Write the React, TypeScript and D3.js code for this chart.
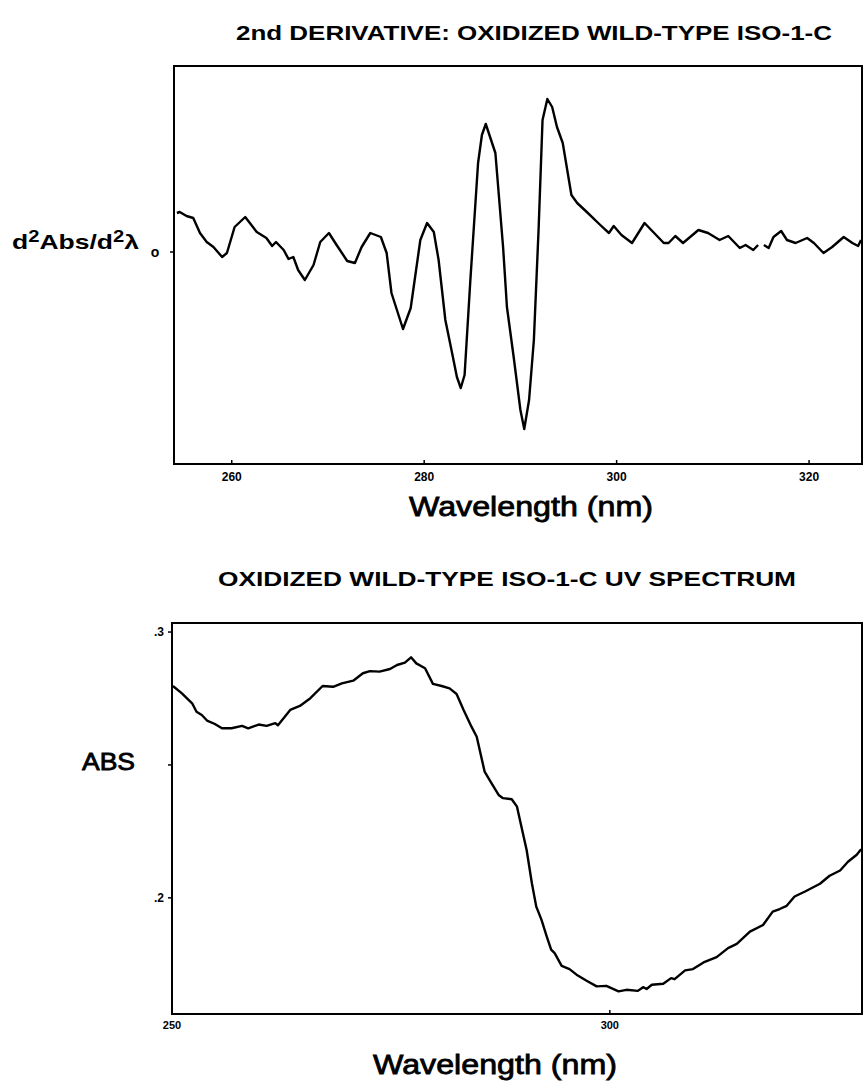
import React, { useRef, useEffect } from "react";
import * as d3 from "d3";

// 2nd derivative trace (arbitrary units, 0 = baseline)
const derivNm = [
  254.3, 254.6, 255.3, 256.0, 256.7, 257.4, 258.1, 259.0, 259.5, 260.3, 261.4, 262.6, 263.6, 264.2, 264.6, 265.4,
  265.9, 266.4, 266.9, 267.6, 268.5, 269.2, 270.1, 270.9, 272.0, 272.8, 273.5, 274.4, 275.5, 276.1, 276.6, 277.8,
  278.6, 279.6, 280.3, 281.0, 281.5, 282.2, 282.9, 283.4, 283.8, 284.2, 284.8, 285.6, 286.0, 286.4, 287.4, 288.2,
  288.6, 289.3, 290.0, 290.4, 290.9, 291.4, 291.9, 292.3, 292.8, 293.3, 293.8, 294.4, 295.3, 295.9, 296.9, 298.3,
  299.2, 299.7, 300.5, 301.6, 302.9, 303.8, 304.9, 305.4, 306.1, 306.9, 308.5, 309.5, 310.7, 311.6, 312.8, 313.4,
  314.2, 314.7, 315.0, 315.3, 315.8, 316.3, 317.1, 317.7, 318.6, 319.8, 320.5, 321.5, 322.4, 323.6, 324.5, 325.1,
  325.4,
];
const derivValue = [
  0.39, 0.4, 0.36, 0.34, 0.19, 0.1, 0.05, -0.05, -0.01, 0.25, 0.35, 0.2, 0.14, 0.06, 0.1, 0.02,
  -0.07, -0.05, -0.18, -0.28, -0.13, 0.1, 0.19, 0.07, -0.09, -0.11, 0.05, 0.19, 0.15, -0.01, -0.41, -0.77,
  -0.56, 0.12, 0.29, 0.2, -0.08, -0.68, -1.01, -1.25, -1.36, -1.23, -0.28, 0.89, 1.17, 1.28, 0.99, 0.05,
  -0.55, -1.05, -1.58, -1.77, -1.48, -0.88, 0.25, 1.32, 1.53, 1.45, 1.25, 1.09, 0.57, 0.49, 0.4, 0.27,
  0.19, 0.26, 0.17, 0.09, 0.29, 0.2, 0.09, 0.09, 0.16, 0.09, 0.22, 0.19, 0.12, 0.16, 0.04, 0.07,
  0.02, 0.07, NaN, 0.07, 0.04, 0.15, 0.21, 0.12, 0.09, 0.14, 0.09, -0.01, 0.05, 0.15, 0.09, 0.06,
  0.12,
];
const derivXTicks = [260, 280, 300, 320];

// UV absorbance trace
const uvNm = [
  250.1, 251.1, 252.3, 252.8, 253.4, 254.0, 254.9, 255.7, 256.8, 258.0, 258.7, 259.9, 260.8, 261.8, 262.1, 263.5,
  264.6, 265.8, 267.2, 268.4, 269.4, 270.7, 271.8, 272.6, 273.7, 274.9, 275.7, 276.6, 277.3, 277.9, 278.9, 279.8,
  280.8, 281.7, 282.5, 283.3, 284.2, 284.8, 285.7, 286.5, 287.3, 287.8, 288.8, 289.4, 289.9, 290.5, 291.1, 291.6,
  292.2, 292.8, 293.3, 293.7, 294.5, 295.4, 296.2, 297.3, 298.5, 299.6, 301.0, 301.9, 303.2, 303.8, 304.2, 304.8,
  306.1, 307.0, 307.4, 308.6, 309.5, 310.7, 312.2, 313.5, 314.5, 316.0, 317.5, 318.6, 319.4, 320.2, 321.1, 322.3,
  324.0, 325.1, 326.3, 327.2, 328.2, 328.7,
];
const uvAbs = [
  0.2797, 0.277, 0.2732, 0.27, 0.2688, 0.2667, 0.2654, 0.2638, 0.2638, 0.2647, 0.2638, 0.2652, 0.2647, 0.2657, 0.2649, 0.2707,
  0.2722, 0.2751, 0.2797, 0.2794, 0.2807, 0.2817, 0.2845, 0.2853, 0.2851, 0.2861, 0.2876, 0.2885, 0.2905, 0.2882, 0.2864, 0.2805,
  0.2797, 0.2788, 0.2767, 0.2707, 0.2644, 0.2606, 0.2475, 0.2431, 0.2387, 0.2375, 0.2371, 0.2343, 0.2268, 0.218, 0.2055, 0.1967,
  0.1917, 0.1854, 0.1805, 0.1792, 0.1744, 0.1732, 0.1711, 0.1689, 0.1667, 0.1669, 0.1648, 0.1654, 0.165, 0.1664, 0.1657, 0.1673,
  0.1677, 0.1698, 0.1694, 0.1727, 0.1732, 0.1757, 0.1777, 0.1811, 0.1827, 0.1873, 0.1898, 0.1948, 0.1958, 0.197, 0.2005, 0.2024,
  0.2053, 0.2083, 0.2103, 0.2136, 0.2162, 0.2183,
];
const uvXTicks = [250, 300];
const uvYTicks = [0.3, 0.25, 0.2];
const uvYTickLabels = [".3", "", ".2"];

const FONT = "'Liberation Sans', Arial, Helvetica, sans-serif";

const App = () => {
  const svgRef = useRef(null);

  useEffect(() => {
    const svg = d3.select(svgRef.current);
    svg.selectAll("*").remove();

    // text helper, stretched to the width seen in the scan
    const label = (x, y, size, txt, width, anchor = "middle", heavy = true) => {
      const t = svg
        .append("text")
        .attr("x", x)
        .attr("y", y)
        .attr("text-anchor", anchor)
        .attr("font-family", FONT)
        .attr("font-weight", heavy ? "bold" : "normal")
        .attr("font-size", size)
        .attr("textLength", width)
        .attr("lengthAdjust", "spacingAndGlyphs")
        .text(txt);
      if (!heavy) t.attr("stroke", "#000").attr("stroke-width", 0.8);
      return t;
    };

    // ---------- top: 2nd derivative ----------
    const top = { left: 174, right: 862, top: 66, bottom: 464 };
    const x1 = d3.scaleLinear().domain([254, 325.5]).range([top.left, top.right]);
    const y1 = d3.scaleLinear().domain([-2.12, 1.86]).range([top.bottom, top.top]);

    label(534, 40, 21, "2nd DERIVATIVE: OXIDIZED WILD-TYPE ISO-1-C", 596);

    svg
      .append("rect")
      .attr("x", top.left)
      .attr("y", top.top)
      .attr("width", top.right - top.left)
      .attr("height", top.bottom - top.top)
      .attr("fill", "none")
      .attr("stroke", "#000")
      .attr("stroke-width", 2);

    const g1 = svg.append("g");
    g1.selectAll(".xt")
      .data(derivXTicks)
      .enter()
      .append("line")
      .attr("x1", (d) => x1(d))
      .attr("x2", (d) => x1(d))
      .attr("y1", top.bottom)
      .attr("y2", top.bottom - 4)
      .attr("stroke", "#000")
      .attr("stroke-width", 1.5);
    g1.selectAll(".xl")
      .data(derivXTicks)
      .enter()
      .append("text")
      .attr("x", (d) => x1(d))
      .attr("y", top.bottom + 17)
      .attr("text-anchor", "middle")
      .attr("font-family", FONT)
      .attr("font-weight", "bold")
      .attr("font-size", 12)
      .text((d) => d);

    // zero tick on the left
    g1.append("line")
      .attr("x1", top.left - 4)
      .attr("x2", top.left)
      .attr("y1", y1(0))
      .attr("y2", y1(0))
      .attr("stroke", "#000")
      .attr("stroke-width", 1.5);
    g1.append("text")
      .attr("x", 155)
      .attr("y", y1(0) + 5)
      .attr("text-anchor", "middle")
      .attr("font-family", FONT)
      .attr("font-weight", "bold")
      .attr("font-size", 14)
      .text("o");

    const ylab = svg
      .append("text")
      .attr("x", 12)
      .attr("y", 249)
      .attr("font-family", FONT)
      .attr("font-weight", "bold")
      .attr("font-size", 21)
      .attr("textLength", 127)
      .attr("lengthAdjust", "spacingAndGlyphs");
    ylab.append("tspan").text("d");
    ylab.append("tspan").attr("dy", -7).attr("font-size", 16).text("2");
    ylab.append("tspan").attr("dy", 7).text("Abs/d");
    ylab.append("tspan").attr("dy", -7).attr("font-size", 16).text("2");
    ylab.append("tspan").attr("dy", 7).text("λ");

    const line1 = d3
      .line<number>()
      .defined((d, i) => !isNaN(derivValue[i]))
      .x((d, i) => x1(derivNm[i]))
      .y((d) => y1(d));
    svg
      .append("path")
      .datum(derivValue)
      .attr("d", line1)
      .attr("fill", "none")
      .attr("stroke", "#000")
      .attr("stroke-width", 2.4)
      .attr("stroke-linejoin", "round");

    label(531, 516, 27, "Wavelength (nm)", 244, "middle", false);

    // ---------- bottom: UV spectrum ----------
    const bot = { left: 172, right: 862, top: 623, bottom: 1014 };
    const x2 = d3.scaleLinear().domain([250, 328.8]).range([bot.left, bot.right]);
    const y2 = d3.scaleLinear().domain([0.1563, 0.3034]).range([bot.bottom, bot.top]);

    label(507, 586, 20, "OXIDIZED WILD-TYPE ISO-1-C UV SPECTRUM", 578);

    svg
      .append("rect")
      .attr("x", bot.left)
      .attr("y", bot.top)
      .attr("width", bot.right - bot.left)
      .attr("height", bot.bottom - bot.top)
      .attr("fill", "none")
      .attr("stroke", "#000")
      .attr("stroke-width", 2);

    const g2 = svg.append("g");
    g2.selectAll(".yt")
      .data(uvYTicks)
      .enter()
      .append("line")
      .attr("x1", bot.left - 4)
      .attr("x2", bot.left)
      .attr("y1", (d) => y2(d))
      .attr("y2", (d) => y2(d))
      .attr("stroke", "#000")
      .attr("stroke-width", 1.5);
    g2.selectAll(".yl")
      .data(uvYTicks)
      .enter()
      .append("text")
      .attr("x", bot.left - 8)
      .attr("y", (d) => y2(d) + 4)
      .attr("text-anchor", "end")
      .attr("font-family", FONT)
      .attr("font-weight", "bold")
      .attr("font-size", 12)
      .text((d, i) => uvYTickLabels[i]);
    g2.selectAll(".xt")
      .data(uvXTicks)
      .enter()
      .append("line")
      .attr("x1", (d) => x2(d))
      .attr("x2", (d) => x2(d))
      .attr("y1", bot.bottom)
      .attr("y2", bot.bottom - 4)
      .attr("stroke", "#000")
      .attr("stroke-width", 1.5);
    g2.selectAll(".xl")
      .data(uvXTicks)
      .enter()
      .append("text")
      .attr("x", (d) => x2(d))
      .attr("y", bot.bottom + 15)
      .attr("text-anchor", "middle")
      .attr("font-family", FONT)
      .attr("font-weight", "bold")
      .attr("font-size", 11)
      .text((d) => d);

    label(82, 770, 23, "ABS", 53, "start", false);

    const line2 = d3
      .line<number>()
      .x((d, i) => x2(uvNm[i]))
      .y((d) => y2(d));
    svg
      .append("path")
      .datum(uvAbs)
      .attr("d", line2)
      .attr("fill", "none")
      .attr("stroke", "#000")
      .attr("stroke-width", 2.4)
      .attr("stroke-linejoin", "round");

    label(495, 1074, 27, "Wavelength (nm)", 244, "middle", false);
  }, []);

  return (
    <div style={{ position: "absolute", left: 0, top: 0 }}>
      <svg ref={svgRef} width={865} height={1091} style={{ display: "block", background: "#fff" }}></svg>
    </div>
  );
};

export default App;
